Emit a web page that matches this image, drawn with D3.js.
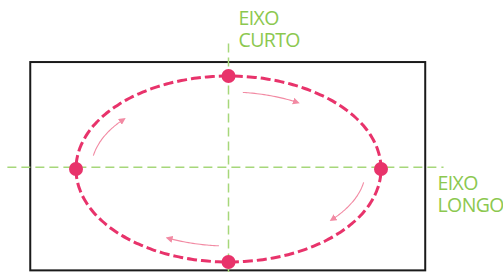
<!DOCTYPE html>
<html>
<head>
<meta charset="utf-8">
<script src="https://cdn.jsdelivr.net/npm/d3@7"></script>
<style>
  body { margin: 0; background: #fff; }
  svg { display: block; }
</style>
</head>
<body>
<div class="chart"></div>
<script>
// Data: unit-ellipse geometry
const keyAngles = [0, 90, 180, 270]          // dots on the ellipse (degrees)
const arrowStarts = [-84, 10, 94, 190]        // motion arrows, start angle
const arrowEnds = [-60, 41, 116, 220]         // motion arrows, end angle
const axisLabels = [["EIXO", "CURTO"], ["EIXO", "LONGO"]]

const width = 503
const height = 272
const pink = "#e8336b"
const green = "#8cc84f"

const svg = d3.select(".chart").append("svg")
    .attr("width", width)
    .attr("height", height)
    .attr("viewBox", [0, 0, width, height])

// Scales: unit coordinates -> pixels
const x = d3.scaleLinear().domain([-1, 1]).range([76, 381])
const y = d3.scaleLinear().domain([-1, 1]).range([76, 262])
// frame and axis extents in the same unit space
const frameX = [-1.3, 1.29], frameY = [-1.15, 1.09]
const axisX = [-1.45, 1.41], axisY = [-1.35, 1.12]

const rad = d => d * Math.PI / 180

// frame
svg.append("rect")
    .attr("x", x(frameX[0]))
    .attr("y", y(frameY[0]))
    .attr("width", x(frameX[1]) - x(frameX[0]))
    .attr("height", y(frameY[1]) - y(frameY[0]))
    .attr("fill", "none")
    .attr("stroke", "#1a1a1a")
    .attr("stroke-width", 2)

// axes
const axes = svg.append("g")
    .attr("stroke", "#a6d77a")
    .attr("stroke-width", 1.5)
    .attr("stroke-dasharray", "9,5")
axes.append("line")
    .attr("x1", x(0)).attr("x2", x(0))
    .attr("y1", y(axisY[0])).attr("y2", y(axisY[1]))
axes.append("line")
    .attr("x1", x(axisX[0])).attr("x2", x(axisX[1]))
    .attr("y1", y(-0.02)).attr("y2", y(-0.02))

// ellipse
const angles = d3.range(0, 360, 2)
const line = d3.line()
    .x(a => x(Math.cos(rad(a))))
    .y(a => y(Math.sin(rad(a))))
    .curve(d3.curveCardinalClosed)
svg.append("path")
    .attr("d", line(angles))
    .attr("fill", "none")
    .attr("stroke", pink)
    .attr("stroke-width", 3)
    .attr("stroke-dasharray", "10,4")

// arrows on an inner ellipse
const inner = 0.9
svg.append("defs").append("marker")
    .attr("id", "head")
    .attr("viewBox", "0 0 10 10")
    .attr("refX", 6).attr("refY", 5)
    .attr("markerWidth", 7).attr("markerHeight", 7)
    .attr("markerUnits", "userSpaceOnUse")
    .attr("orient", "auto")
  .append("path")
    .attr("d", "M0,0L10,5L0,10z")
    .attr("fill", "#f28aa3")

const arcLine = d3.line()
    .x(a => x(inner * Math.cos(rad(a))))
    .y(a => y(inner * 0.92 * Math.sin(rad(a))))
    .curve(d3.curveBasis)
svg.append("g")
    .selectAll("path")
    .data(d3.zip(arrowStarts, arrowEnds))
    .join("path")
    .attr("d", ([s, e]) => arcLine(d3.range(s, e + 0.1, 1)))
    .attr("fill", "none")
    .attr("stroke", "#f28aa3")
    .attr("stroke-width", 1.1)
    .attr("marker-end", "url(#head)")

// dots
svg.append("g")
    .selectAll("circle")
    .data(keyAngles)
    .join("circle")
    .attr("cx", a => x(Math.round(Math.cos(rad(a)))))
    .attr("cy", a => y(Math.round(Math.sin(rad(a)))))
    .attr("r", 7)
    .attr("fill", pink)

// labels, one text per line
const labelPos = [[x(0) + 10, 25], [x(axisX[1]) - 6, 190]]
axisLabels.forEach((lines, i) => {
    lines.forEach((s, j) => {
        svg.append("text")
            .attr("x", labelPos[i][0])
            .attr("y", labelPos[i][1] + j * 22)
            .attr("fill", green)
            .attr("font-family", "Open Sans")
            .attr("font-size", 19.5)
            .attr("letter-spacing", -0.6)
            .text(s)
    })
})
</script>
</body>
</html>
